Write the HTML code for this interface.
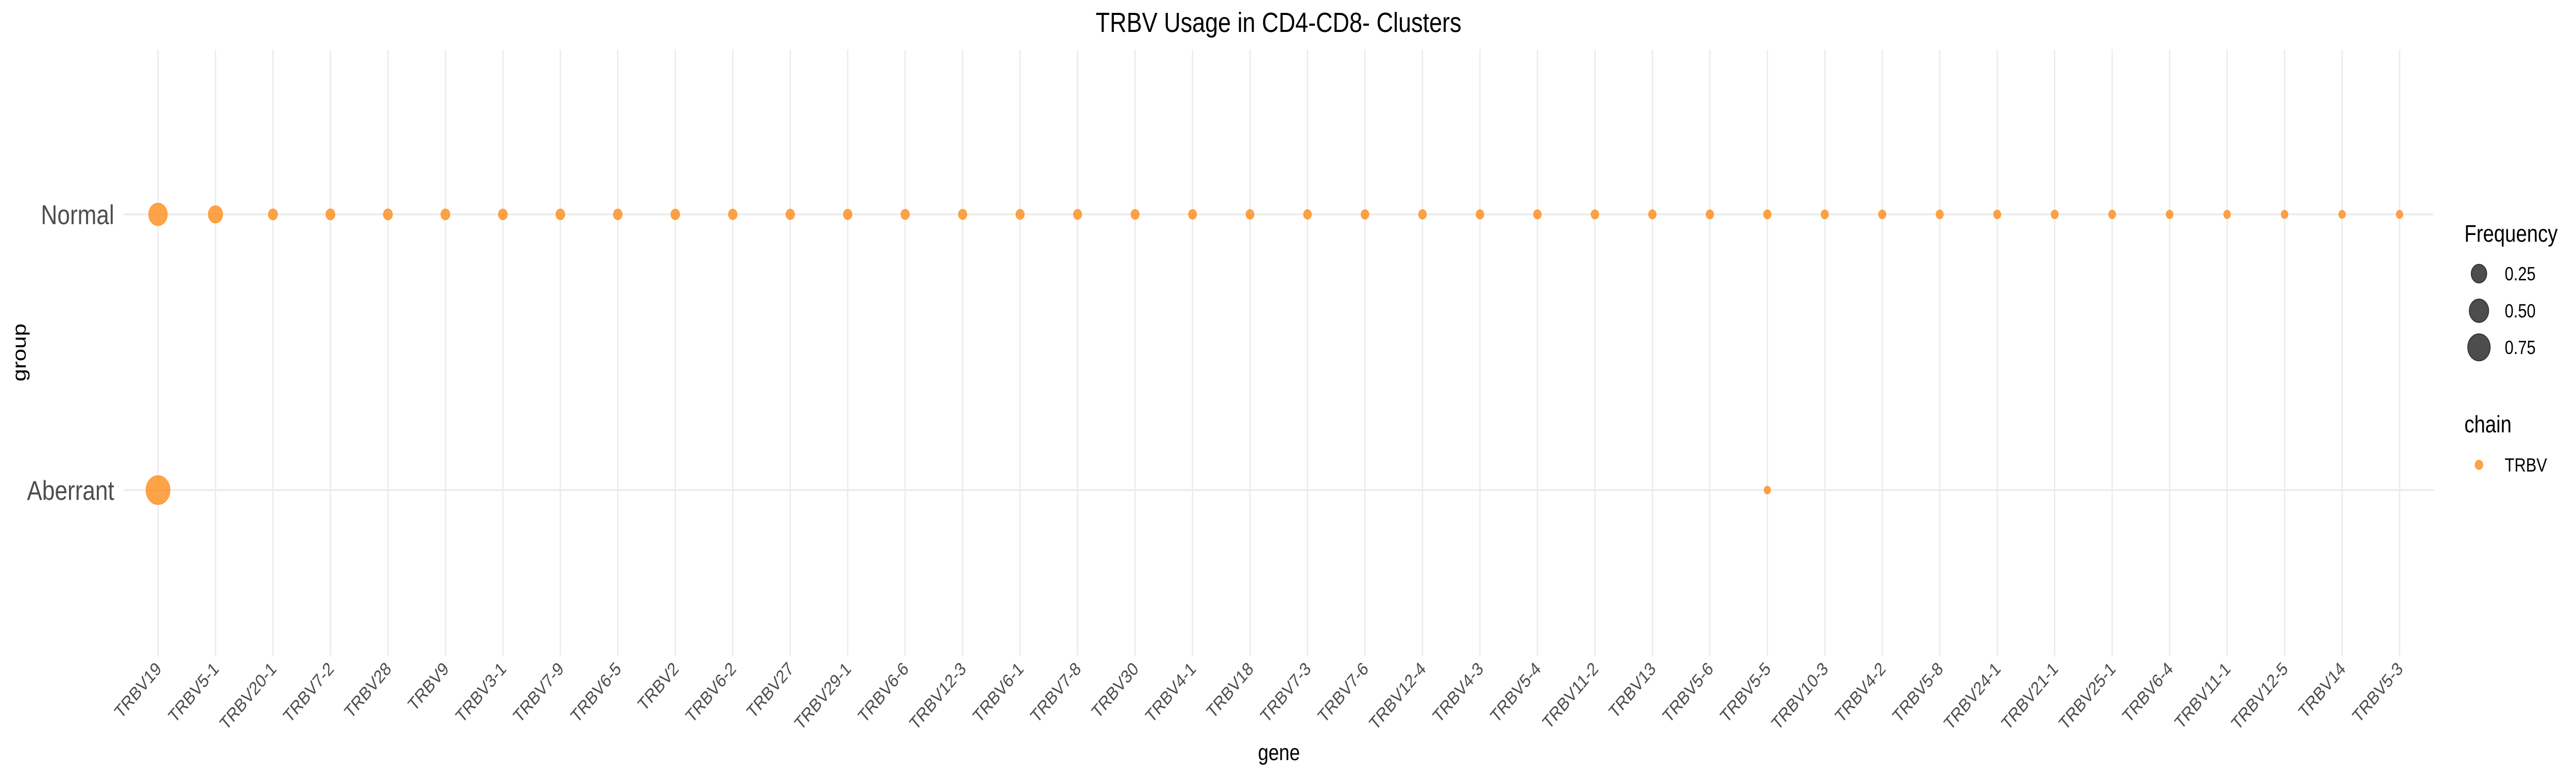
<!DOCTYPE html>
<html><head><meta charset="utf-8"><style>
html,body{margin:0;padding:0;background:#fff;width:100%;height:100%;overflow:hidden;}
svg{display:block;position:absolute;left:0;top:0;width:100vw;height:100vh;font-family:"Liberation Sans",Arial,sans-serif;}
</style></head><body>
<svg id="chart" viewBox="0 0 6000 1500" preserveAspectRatio="none" xmlns="http://www.w3.org/2000/svg">
<rect width="6000" height="1500" fill="#fff"/>
<text x="2978" y="62" text-anchor="middle" font-size="54" fill="#000">TRBV Usage in CD4-CD8- Clusters</text>
<g id="grid"></g>
<g id="points"></g>
<g id="xticks"></g>
<g id="yticks"></g>
<text x="2979" y="1475" text-anchor="middle" font-size="44" fill="#000">gene</text>
<text x="0" y="0" transform="translate(60,684) rotate(-90)" text-anchor="middle" font-size="44" fill="#000">group</text>
<g>
<text x="5740" y="469" font-size="46" fill="#000">Frequency</text>
<g id="sizeLegend"></g>
</g>
<g>
<text x="5740" y="839" font-size="46" fill="#000">chain</text>
<circle cx="5774" cy="902" r="9" fill="#ff8c1a" fill-opacity="0.8" stroke="#ff8c1a" stroke-opacity="0.8" stroke-width="1.5"/>
<text x="5834" y="915" font-size="37" fill="#000">TRBV</text>
</g>
</svg>
<script>
const genes = ["TRBV19","TRBV5-1","TRBV20-1","TRBV7-2","TRBV28","TRBV9","TRBV3-1","TRBV7-9","TRBV6-5","TRBV2","TRBV6-2","TRBV27","TRBV29-1","TRBV6-6","TRBV12-3","TRBV6-1","TRBV7-8","TRBV30","TRBV4-1","TRBV18","TRBV7-3","TRBV7-6","TRBV12-4","TRBV4-3","TRBV5-4","TRBV11-2","TRBV13","TRBV5-6","TRBV5-5","TRBV10-3","TRBV4-2","TRBV5-8","TRBV24-1","TRBV21-1","TRBV25-1","TRBV6-4","TRBV11-1","TRBV12-5","TRBV14","TRBV5-3"];
const groups = ["Normal","Aberrant"];
const normalFreq = [0.45,0.196,0.028,0.027,0.026,0.025,0.024,0.023,0.022,0.021,0.02,0.019,0.018,0.017,0.016,0.015,0.014,0.013,0.012,0.011,0.010,0.0095,0.009,0.0085,0.008,0.0075,0.007,0.0065,0.006,0.0055,0.005,0.0045,0.004,0.0035,0.003,0.0025,0.002,0.0017,0.0013,0.001];
const aberrantGenes = ["TRBV19","TRBV5-5"];
const aberrantFreq = [0.91,0.0005];
const legendValues = [0.25,0.5,0.75];
const legendLabels = ["0.25","0.50","0.75"];

const NS="http://www.w3.org/2000/svg";
const X0=368, X1=5589;
function xScale(i){return X0+(X1-X0)*i/(genes.length-1);}
const yPos={"Normal":416,"Aberrant":951};
function yScale(g){return yPos[g];}
function rScale(f){return 7+22*Math.sqrt(f);}
function mk(tag,attrs,parent){const e=document.createElementNS(NS,tag);for(const k in attrs)e.setAttribute(k,attrs[k]);parent.appendChild(e);return e;}

const grid=document.getElementById('grid');
genes.forEach((g,i)=>{
  const l=mk('line',{x1:xScale(i),x2:xScale(i),y1:96,y2:1273,stroke:'#ebebeb','stroke-width':3},grid);
  
  
});
groups.forEach(g=>{
  const l=mk('line',{x1:288,x2:5669,y1:yScale(g),y2:yScale(g),stroke:'#ebebeb','stroke-width':3.5},grid);
  
  
});

const pts=document.getElementById('points');
function dot(x,y,f){
  const c=mk('circle',{cx:x,cy:y,r:rScale(f),fill:'#ff8c1a','fill-opacity':0.8,stroke:'#ff8c1a','stroke-opacity':0.8,'stroke-width':1.5},pts);
  return c;
}
normalFreq.forEach((f,i)=>{
  const c=dot(xScale(i),yScale("Normal"),f);
  
  
});
aberrantGenes.forEach((g,k)=>{
  const c=dot(xScale(genes.indexOf(g)),yScale("Aberrant"),aberrantFreq[k]);
  
  
});

const xt=document.getElementById('xticks');
genes.forEach((g,i)=>{
  const t=mk('text',{x:0,y:0,transform:`translate(${xScale(i)+10},1300) rotate(-45)`,'text-anchor':'end','font-size':36,fill:'#4d4d4d'},xt);
  t.textContent=g;
  
  
});
const yt=document.getElementById('yticks');
groups.forEach(g=>{
  const t=mk('text',{x:266,y:yScale(g)+19,'text-anchor':'end','font-size':53,fill:'#4d4d4d'},yt);
  t.textContent=g;
  
  
});

const sl=document.getElementById('sizeLegend');
const ly=[531,603,674];
legendValues.forEach((v,i)=>{
  const c=mk('circle',{cx:5774,cy:ly[i],r:rScale(v),fill:'#4d4d4d',stroke:'#333','stroke-width':2},sl);
  
  
  const t=mk('text',{x:5834,y:ly[i]+13,'font-size':37,fill:'#000'},sl);
  t.textContent=legendLabels[i];
  
  
});
</script>
</body></html>
